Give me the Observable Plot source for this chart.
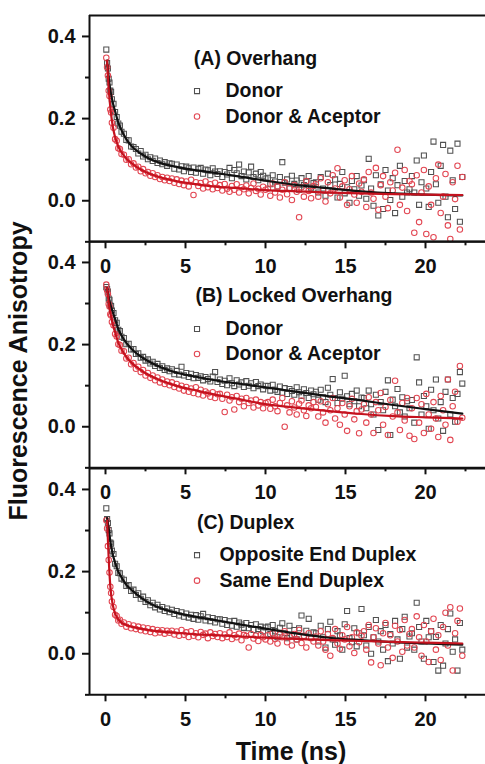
<!DOCTYPE html>
<html><head><meta charset="utf-8">
<script src="https://cdn.jsdelivr.net/npm/d3@7"></script>
<script src="https://cdn.jsdelivr.net/npm/@observablehq/plot@0.6"></script>
<style>
html,body{margin:0;padding:0;background:#fff;overflow:hidden}
#chart{position:relative;width:485px;height:764px;color:#111}
</style></head><body><div id="chart"></div>
<script>
// ---- data (time in ns, anisotropy) ----
const times = [
0.05,0.1,0.15,0.2,0.25,0.3,0.35,0.4,0.5,0.6,0.7,0.8,0.9,1.0,
1.15,1.3,1.45,1.6,1.75,1.9,2.05,2.2,2.35,2.5,2.65,2.8,2.95,3.1,3.25,3.4,3.55,3.7,3.85,4.0,
4.15,4.3,4.45,4.6,4.75,4.9,5.05,5.2,5.35,5.5,5.65,5.8,5.95,6.1,6.25,6.4,6.55,6.7,6.85,7.0,
7.15,7.3,7.45,7.6,7.75,7.9,8.05,8.2,8.35,8.5,8.65,8.8,8.95,9.1,9.25,9.4,9.55,9.7,9.85,10.0,
10.15,10.3,10.45,10.6,10.75,10.9,11.05,11.2,11.35,11.5,11.65,11.8,11.95,12.1,12.25,12.4,12.55,12.7,12.85,13.0,
13.15,13.3,13.45,13.6,13.75,13.9,14.05,14.2,14.35,14.5,14.65,14.8,14.95,15.1,15.25,15.4,15.55,15.7,15.85,16.0,
16.15,16.3,16.45,16.6,16.75,16.9,17.05,17.2,17.35,17.5,17.65,17.8,17.95,18.1,18.25,18.4,18.55,18.7,18.85,19.0,
19.15,19.3,19.45,19.6,19.75,19.9,20.05,20.2,20.35,20.5,20.65,20.8,20.95,21.1,21.25,21.4,21.55,21.7,21.85,22.0,
22.15,22.3];

const aDonor = [
.368,.335,.322,.297,.288,.268,.265,.247,.236,.216,.204,.188,.183,.168,
.163,.148,.147,.132,.131,.126,.115,.121,.108,.112,.101,.106,.097,.103,.092,.098,.089,.094,.085,.091,
.090,.078,.088,.076,.084,.072,.083,.079,.070,.081,.068,.078,.080,.066,.076,.074,.062,.079,.071,.065,
.072,.058,.070,.064,.080,.055,.075,.067,.088,.060,.071,.052,.069,.083,.058,.066,.050,.070,.061,.054,
.056,.040,.062,.047,.035,.058,.094,.044,.052,.030,.061,.041,.049,.027,.055,.038,.046,.060,.032,.043,
.045,.020,.058,.030,.012,.066,.038,.025,.052,.008,.041,.070,.018,.033,-.005,.048,.028,.060,.012,.037,
.050,.005,.102,.030,-.012,.062,-.036,.040,-.020,.075,.025,.002,.055,-.030,.038,.085,.010,.048,.020,.028,
.060,.020,.098,-.010,.045,.110,.030,-.015,.070,.144,.040,-.005,.085,.136,.010,-.040,.122,.050,-.020,.139,
-.051,.058];
const aDonorAcceptor = [
.348,.325,.305,.268,.255,.222,.215,.190,.178,.150,.146,.128,.126,.114,
.112,.100,.101,.089,.091,.081,.083,.072,.077,.067,.070,.061,.067,.058,.062,.053,.058,.050,.056,.048,
.054,.044,.052,.041,.049,.038,.047,.035,.051,.014,.045,.036,.043,.030,.047,.033,.040,.028,.044,.031,
.038,.025,.041,.029,.022,.036,.027,.040,.020,.033,.028,.037,.018,.031,.042,.024,.029,.015,.034,.027,
.030,.012,.042,.020,.035,.008,.027,.045,.016,.031,.002,.038,.022,-.040,.033,.010,.048,.024,.006,.036,
.040,.010,.055,.025,-.002,.045,.018,.062,.030,.079,.008,.035,.050,-.010,.028,.060,.015,-.005,.042,.022,
.052,-.015,.070,.020,.005,.080,-.022,.038,.060,.010,-.018,.045,.025,.068,.124,-.010,.032,.075,-.025,.048,
.040,-.078,.062,-.052,.020,.075,-.081,.035,-.010,-.089,.055,.088,-.030,.010,.065,-.060,-.093,.045,.004,.085,
-.070,.058];
const bDonor = [
.340,.335,.329,.312,.309,.295,.294,.283,.277,.259,.253,.236,.233,.219,
.216,.201,.202,.188,.189,.177,.179,.168,.170,.161,.164,.154,.158,.148,.153,.143,.147,.138,.142,.135,
.140,.128,.136,.127,.146,.125,.131,.121,.129,.118,.126,.119,.123,.113,.121,.116,.110,.122,.133,.109,
.115,.104,.112,.101,.118,.106,.099,.113,.103,.108,.097,.111,.100,.106,.094,.109,.099,.103,.091,.100,
.099,.088,.102,.090,.085,.098,.083,.094,.080,.092,.087,.078,.096,.084,.075,.091,.082,.070,.088,.079,
.085,.066,.090,.072,.060,.095,.078,.116,.070,.058,.084,.068,.124,.074,.055,.080,.062,.088,.050,.071,
.070,.045,.088,.055,.030,.078,-.008,.060,.040,.085,.113,-.020,.066,.050,.092,.035,.072,.025,.062,.045,
.065,.010,.169,.108,.030,.075,.050,-.005,.090,.040,.115,.020,.060,-.010,.085,.115,.030,.070,.012,.080,
.133,.105];
const bDonorAcceptor = [
.346,.333,.323,.299,.293,.274,.271,.255,.247,.226,.220,.201,.199,.185,
.184,.166,.168,.152,.155,.141,.146,.133,.138,.125,.131,.119,.125,.113,.120,.108,.115,.104,.110,.101,
.108,.097,.104,.093,.100,.088,.097,.085,.093,.082,.096,.079,.090,.076,.086,.081,.073,.084,.070,.079,
.080,.068,.036,.078,.064,.072,.042,.075,.060,.068,.050,.070,.058,.064,.047,.066,.052,.060,.045,.058,
.060,.044,.066,.050,.038,.058,.070,.000,.052,.035,.062,.047,.030,.056,.064,.040,.026,.052,.045,.060,
.048,.025,.062,.035,.010,.055,.040,.070,.020,.045,.005,.058,.030,-.010,.050,.068,.018,.038,-.016,.042,
.055,.010,.072,.030,-.015,.060,.040,.082,.005,.048,-.020,.065,.025,.112,.035,-.008,.058,.015,.070,-.022,
.045,-.030,.070,.010,.055,-.015,.080,.030,-.005,.060,.020,-.025,.075,.040,.005,.115,-.032,.050,.085,.012,
.148,.022];
const cOpposite = [
.354,.328,.318,.301,.293,.271,.268,.251,.243,.219,.213,.197,.196,.183,
.180,.165,.167,.153,.156,.143,.147,.134,.139,.126,.130,.118,.124,.113,.119,.108,.114,.104,.110,.101,
.107,.097,.104,.093,.101,.090,.098,.088,.095,.085,.094,.083,.091,.097,.081,.089,.079,.087,.076,.084,
.084,.073,.082,.070,.079,.068,.080,.066,.076,.071,.063,.075,.062,.070,.058,.072,.060,.066,.055,.064,
.066,.048,.070,.055,.040,.063,.074,.050,.038,.068,.045,.058,.035,.062,.093,.042,.056,.085,.040,.052,
.050,.030,.068,.040,.015,.060,.078,.035,.022,.055,.045,.010,.072,.104,.038,.028,.062,.018,.050,.109,
.045,.020,.065,.000,.040,.082,.030,.055,.010,.070,-.018,.048,.025,.080,.035,-.012,.060,.090,.015,.042,
.050,.010,.124,.065,.030,-.012,.080,.040,.055,-.020,.041,-.041,.070,-.029,.025,.060,.098,.005,.035,-.041,
.075,.010];
const cSame = [
.325,.305,.262,.228,.198,.163,.148,.127,.114,.095,.092,.081,.083,.073,
.076,.066,.072,.062,.069,.060,.066,.057,.064,.055,.062,.053,.060,.050,.058,.052,.057,.049,.056,.051,
.056,.047,.054,.044,.058,.046,.052,.041,.055,.044,.050,.040,.053,.046,.049,.038,.052,.043,.048,.041,
.050,.038,.047,.041,.052,.036,.045,.040,.049,.033,.046,.043,.015,.048,.037,.044,.031,.046,.040,.035,
.045,.030,.050,.036,.025,.047,.040,.055,.028,.042,.020,.048,.035,.058,.026,.044,.015,.050,.038,.030,
.042,.020,.055,.030,.010,.048,-.005,.038,.060,.025,.012,.045,.035,.065,.018,.040,.002,.052,.028,.044,
.055,.010,.070,-.021,.040,.062,.025,-.028,.050,.075,.015,.045,-.010,.068,.030,.058,.005,.082,.020,.048,
.060,.015,.091,.040,-.005,.070,.030,-.020,.055,.085,.010,.045,-.015,.065,.100,.020,.113,-.041,.050,.080,
.110,-.005];

// fitted curves, read at these times
const fitTimes = [0.1,0.2,0.3,0.45,0.6,0.8,1.0,1.3,1.7,2.2,2.8,3.5,4.5,5.5,7,8.5,10,12,14,16,18,20,22.3];
const aDonorFit = [.341,.300,.270,.240,.218,.190,.172,.150,.130,.115,.101,.091,.082,.075,.067,.058,.049,.038,.030,.023,.018,.015,.013];
const aDonorAcceptorFit = [.341,.272,.228,.182,.155,.132,.118,.103,.089,.076,.065,.056,.047,.041,.034,.030,.026,.023,.020,.018,.016,.015,.014];
const bDonorFit = [.337,.315,.298,.280,.262,.238,.222,.204,.187,.171,.157,.144,.131,.123,.112,.104,.096,.085,.074,.064,.053,.043,.032];
const bDonorAcceptorFit = [.337,.303,.278,.250,.230,.205,.189,.170,.153,.138,.124,.112,.099,.090,.077,.066,.055,.046,.038,.031,.026,.023,.020];
const cOppositeFit = [.330,.305,.275,.243,.222,.200,.186,.168,.153,.137,.122,.110,.099,.091,.081,.071,.061,.049,.039,.033,.028,.025,.022];
const cSameFit = [.324,.232,.165,.120,.098,.084,.076,.070,.065,.061,.057,.054,.051,.048,.045,.042,.039,.036,.033,.031,.029,.027,.025];

const panelTitles = ["(A) Overhang", "(B) Locked Overhang", "(C) Duplex"];
const blackLabels = ["Donor", "Donor", "Opposite End Duplex"];
const redLabels = ["Donor & Aceptor", "Donor & Aceptor", "Same End Duplex"];
const yMajorTicks = [0, 0.2, 0.4];
const yMinorTicks = [-0.1, 0.1, 0.3];
const xMajorTicks = [0, 5, 10, 15, 20];
const xMinorTicks = [2.5, 7.5, 12.5, 17.5, 22.5];

// ---- build ----
const series = [
  {panel: 0, kind: "black", vals: aDonor, fit: aDonorFit},
  {panel: 0, kind: "red", vals: aDonorAcceptor, fit: aDonorAcceptorFit},
  {panel: 1, kind: "black", vals: bDonor, fit: bDonorFit},
  {panel: 1, kind: "red", vals: bDonorAcceptor, fit: bDonorAcceptorFit},
  {panel: 2, kind: "black", vals: cOpposite, fit: cOppositeFit},
  {panel: 2, kind: "red", vals: cSame, fit: cSameFit}
];
series.forEach((s, k) => {
  if (s.vals.length !== times.length) throw new Error("series " + k + " has " + s.vals.length + " values, expected " + times.length);
  if (s.fit.length !== fitTimes.length) throw new Error("fit " + k + " has " + s.fit.length);
});

const FONT = "'Liberation Sans', Arial, Helvetica, sans-serif";
const PANEL_H = 679 / 3;
const TOP0 = 15, MT = 10, MB = 42;
const SQ = {stroke: "#505050", r: 2.85, sw: 1.05};
const CI = {stroke: "#e24652", r: 2.75, sw: 1.05};
const LINE_BLACK = "#111", LINE_RED = "#c4121e";
const legendLayout = [
  {titleX: 5.52, titleY: 0.346, markX: 5.72, labelX: 7.5, y1: 0.267, y2: 0.205},
  {titleX: 5.62, titleY: 0.320, markX: 5.72, labelX: 7.5, y1: 0.238, y2: 0.177},
  {titleX: 5.72, titleY: 0.320, markX: 5.72, labelX: 7.12, y1: 0.240, y2: 0.178}
];

function makePanel(i) {
  const S = series.filter(s => s.panel === i);
  const pts = S.flatMap(s => s.vals.map((v, j) => ({t: times[j], v, kind: s.kind})));
  const fits = S.flatMap(s => s.fit.map((v, j) => ({t: fitTimes[j], v, kind: s.kind})));
  const L = legendLayout[i];
  const texts = [
    {x: L.titleX, y: L.titleY, text: panelTitles[i]},
    {x: L.labelX, y: L.y1, text: blackLabels[i]},
    {x: L.labelX, y: L.y2, text: redLabels[i]}
  ];
  const plot = Plot.plot({
    width: 485, height: PANEL_H + MT + MB,
    marginTop: MT, marginBottom: MB, marginLeft: 89, marginRight: 0,
    style: {background: "transparent", overflow: "visible", fontFamily: FONT, color: "#111"},
    x: {domain: [-1, 23.75]},
    y: {domain: [-0.1, 0.451]},
    marks: [
      Plot.axisY({ticks: yMajorTicks, tickSize: 7, tickPadding: 7, tickFormat: d3.format(".1f"), fontSize: 20, fontWeight: "bold", strokeWidth: 2, label: null}),
      Plot.axisY({ticks: yMinorTicks, tickSize: 4, tickFormat: () => "", strokeWidth: 2, label: null}),
      Plot.axisX({ticks: xMajorTicks, tickSize: 7, tickPadding: 10, fontSize: 20, fontWeight: "bold", strokeWidth: 2, label: null}),
      Plot.axisX({ticks: xMinorTicks, tickSize: 4, tickFormat: () => "", strokeWidth: 2, label: null}),
      Plot.dot(pts.filter(d => d.kind === "black"), {x: "t", y: "v", symbol: "square", r: SQ.r, stroke: SQ.stroke, strokeWidth: SQ.sw, fill: "none"}),
      Plot.dot(pts.filter(d => d.kind === "red"), {x: "t", y: "v", symbol: "circle", r: CI.r, stroke: CI.stroke, strokeWidth: CI.sw, fill: "none"}),
      Plot.line(fits.filter(d => d.kind === "black"), {x: "t", y: "v", stroke: LINE_BLACK, strokeWidth: 2.2, curve: "monotone-x"}),
      Plot.line(fits.filter(d => d.kind === "red"), {x: "t", y: "v", stroke: LINE_RED, strokeWidth: 2.2, curve: "monotone-x"}),
      Plot.dot([{x: L.markX, y: L.y1}], {x: "x", y: "y", symbol: "square", r: SQ.r, stroke: SQ.stroke, strokeWidth: SQ.sw, fill: "none"}),
      Plot.dot([{x: L.markX, y: L.y2}], {x: "x", y: "y", symbol: "circle", r: CI.r, stroke: CI.stroke, strokeWidth: CI.sw, fill: "none"}),
      Plot.text(texts, {x: "x", y: "y", text: "text", textAnchor: "start", lineAnchor: "middle", fontSize: 19.5, fontWeight: "bold", fill: "#111"}),
      Plot.ruleX([-1], {stroke: "#111", strokeWidth: 2}),
      Plot.ruleY([-0.1, 0.451], {stroke: "#111", strokeWidth: 2})
    ]
  });
  plot.style.position = "absolute";
  plot.style.left = "0px";
  plot.style.top = (TOP0 + PANEL_H * i - MT) + "px";
  return plot;
}

const chart = document.getElementById("chart");
[0, 1, 2].forEach(i => chart.appendChild(makePanel(i)));

// axis titles
const ns = "http://www.w3.org/2000/svg";
const over = document.createElementNS(ns, "svg");
over.setAttribute("width", 485); over.setAttribute("height", 764);
over.style.cssText = "position:absolute;left:0;top:0;pointer-events:none;overflow:visible";
function addText(str, attrs) {
  const t = document.createElementNS(ns, "text");
  for (const k in attrs) t.setAttribute(k, attrs[k]);
  t.textContent = str;
  over.appendChild(t);
}
addText("Fluorescence Anisotropy", {transform: "translate(26.5,371) rotate(-90)", "text-anchor": "middle", "font-size": 25, "font-weight": "bold", "font-family": FONT, fill: "#111"});
addText("Time (ns)", {x: 291, y: 759.5, "text-anchor": "middle", "font-size": 25, "font-weight": "bold", "font-family": FONT, fill: "#111"});
chart.appendChild(over);
</script></body></html>
